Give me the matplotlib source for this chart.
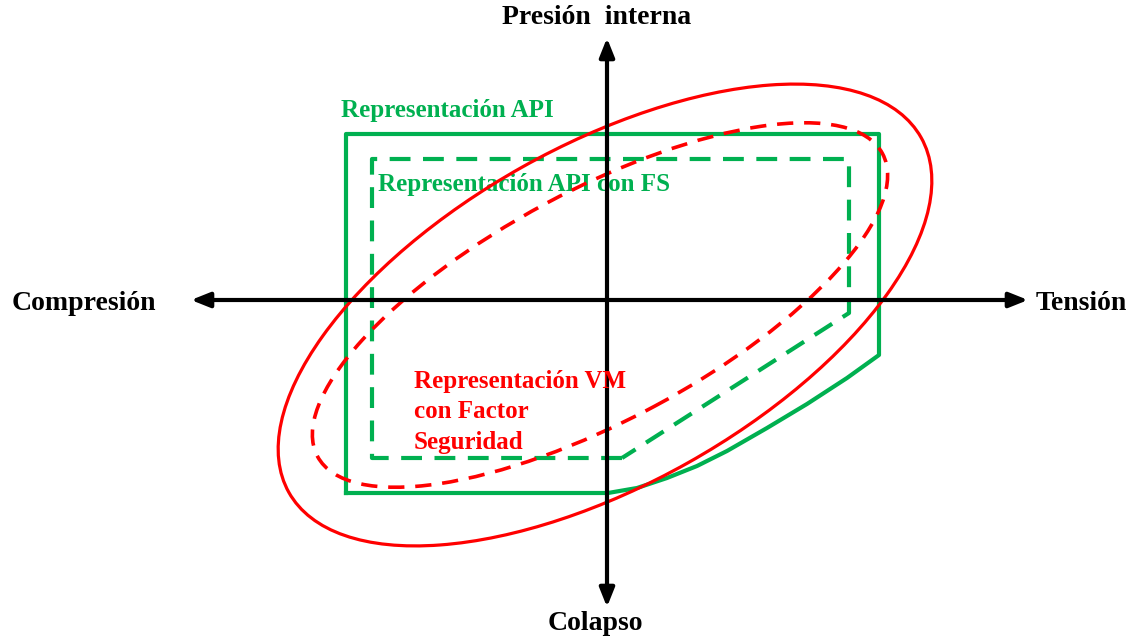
import numpy as np
import matplotlib.pyplot as plt
from matplotlib.patches import Ellipse, FancyArrowPatch

# diagram coordinates: origin where the two axes cross
api_x = [-261, -261, 272, 272, 240, 200, 160, 120, 90, 60, 30, 1, -261]
api_y = [-193, 166, 166, -55, -78, -104, -128, -151, -166, -178, -188, -193, -193]

api_fs_x = [15, -235, -235, 242, 242, 15]
api_fs_y = [-158, -158, 141, 141, -13, -158]

# von Mises ellipses: center x, center y, width, height, angle
vm = [-2, -15, 725, 339, 29.3]
vm_fs = [-7, -5, 641, 230, 28.2]

x_axis = [-416, 421]
y_axis = [-307, 262]

green = '#00B050'
red = '#FF0000'
font = ['Liberation Serif', 'DejaVu Serif']

fig = plt.figure(figsize=(11.35, 6.38), dpi=100)
ax = fig.add_axes([0, 0, 1, 1])
ax.set_xlim(-607, 528)
ax.set_ylim(-338, 300)
ax.axis('off')

ax.plot(api_x, api_y, color=green, lw=3, solid_joinstyle='round', zorder=2)
ax.plot(api_fs_x, api_fs_y, color=green, lw=3, ls=(0, (5, 3)), zorder=2)

ax.add_patch(Ellipse((vm[0], vm[1]), vm[2], vm[3], angle=vm[4],
                     fill=False, ec=red, lw=2.3, zorder=3))
ax.add_patch(Ellipse((vm_fs[0], vm_fs[1]), vm_fs[2], vm_fs[3], angle=vm_fs[4],
                     fill=False, ec=red, lw=2.6, ls=(0, (4.5, 3)), zorder=3))

style = '<|-|>,head_length=0.75,head_width=0.3'
ax.add_patch(FancyArrowPatch((x_axis[0], 0), (x_axis[1], 0), arrowstyle=style,
                             mutation_scale=15, color='black', lw=3,
                             shrinkA=0, shrinkB=0, zorder=4))
ax.add_patch(FancyArrowPatch((0, y_axis[0]), (0, y_axis[1]), arrowstyle=style,
                             mutation_scale=15, color='black', lw=3,
                             shrinkA=0, shrinkB=0, zorder=4))

ax.text(-10, 282, 'Presión  interna', ha='center', va='center', fontsize=20,
        fontweight='bold', family=font)
ax.text(-12, -323, 'Colapso', ha='center', va='center', fontsize=20,
        fontweight='bold', family=font)
ax.text(-595, -3, 'Compresión', ha='left', va='center', fontsize=20,
        fontweight='bold', family=font)
ax.text(429, -3, 'Tensión', ha='left', va='center', fontsize=20,
        fontweight='bold', family=font)

ax.text(-266, 189, 'Representación API', ha='left', va='center', fontsize=18,
        fontweight='bold', color=green, family=font, zorder=5)
ax.text(-229, 115, 'Representación API con FS', ha='left', va='center', fontsize=18,
        fontweight='bold', color=green, family=font, zorder=1)
ax.text(-193, -112, 'Representación VM\ncon Factor\nSeguridad', ha='left', va='center',
        fontsize=18, fontweight='bold', color=red, family=font, linespacing=1.4, zorder=5)

fig.savefig('out.png', dpi=100)
